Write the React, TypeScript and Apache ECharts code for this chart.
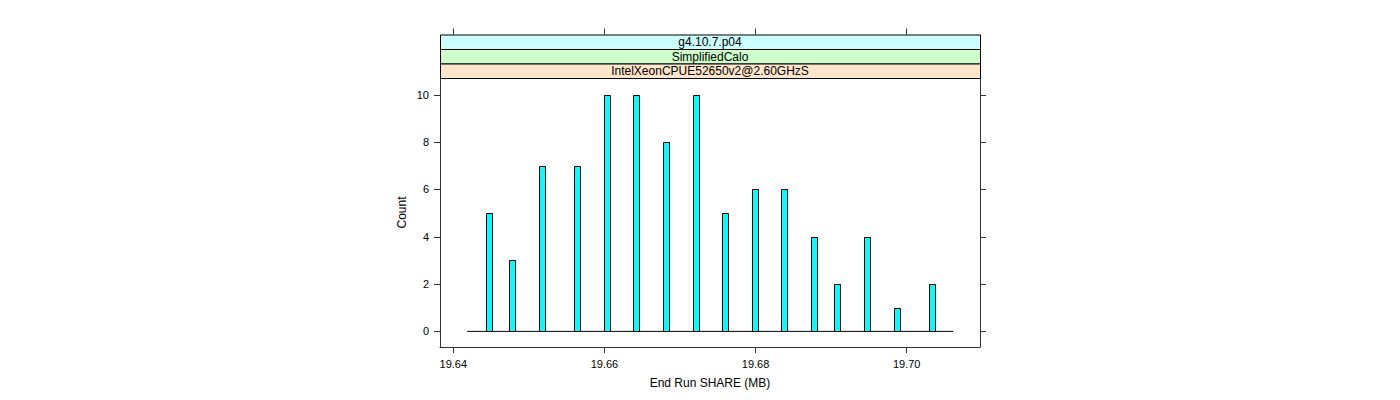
import React, { useEffect, useRef } from "react";
import * as echarts from "echarts";

// ---- data ----
const binCenters = [
  19.64469, 19.64781, 19.6517, 19.65641, 19.6603, 19.66422, 19.66819, 19.67209,
  19.676, 19.67989, 19.68381, 19.68774, 19.69083, 19.69476, 19.69869, 19.70336,
];
const counts = [5, 3, 7, 7, 10, 10, 8, 10, 5, 6, 6, 4, 2, 4, 1, 2];
const binWidth = 0.00079;
const baselineRange = [19.64185, 19.70618];
const xTicks = [19.64, 19.66, 19.68, 19.7];
const yTicks = [0, 2, 4, 6, 8, 10];
const stripLabels = ["g4.10.7.p04", "SimplifiedCalo", "IntelXeonCPUE52650v2@2.60GHzS"];
const stripColors = ["#CCFFFF", "#CCFFCC", "#FFE5CC"];
const xName = "End Run SHARE (MB)";
const yName = "Count";

const X_MIN = 19.63824;
const X_MAX = 19.7097;
const Y_MIN = -0.66;
const Y_MAX = 10.71;

const FONT = "'Liberation Sans', Arial, Helvetica, sans-serif";
const AXIS_COLOR = "#333";

export default function App() {
  const ref = useRef<HTMLDivElement>(null);

  useEffect(() => {
    document.body.style.margin = "0";
    if (!ref.current) return;
    const chart = echarts.init(ref.current, undefined, { renderer: "svg" });

    const gridLeft = 440;
    const gridRight = 980;
    const gridTop = 78;
    const gridBottom = 347;
    const stripH = 14.5;

    const strips: any[] = [];
    stripLabels.forEach((label, i) => {
      const y = gridTop - stripH * (stripLabels.length - i);
      strips.push({
        type: "rect",
        shape: { x: gridLeft + 0.5, y: y + 0.5, width: gridRight - gridLeft, height: stripH },
        style: { fill: stripColors[i], stroke: "#000", lineWidth: 1 },
        z: 10,
      });
      strips.push({
        type: "text",
        x: (gridLeft + gridRight) / 2,
        y: y + stripH / 2 + 0.5,
        style: {
          text: label,
          fill: "#000",
          font: `12px ${FONT}`,
          align: "center",
          verticalAlign: "middle",
        },
        z: 11,
      });
    });

    const barData = binCenters.map((c, i) => [c, counts[i]]);

    const option: any = {
      animation: false,
      backgroundColor: "#fff",
      textStyle: { fontFamily: FONT },
      grid: {
        left: gridLeft,
        right: 1400 - gridRight,
        top: gridTop,
        bottom: 400 - gridBottom,
        show: false,
      },
      xAxis: [
        {
          type: "value",
          position: "bottom",
          min: X_MIN,
          max: X_MAX,
          name: xName,
          nameLocation: "middle",
          nameGap: 30,
          nameTextStyle: { fontSize: 12, color: "#000", fontFamily: FONT },
          axisLine: { show: true, onZero: false, lineStyle: { color: AXIS_COLOR, width: 1 } },
          axisTick: {
            show: true,
            inside: false,
            length: 6,
            customValues: xTicks,
            lineStyle: { color: AXIS_COLOR },
          },
          axisLabel: {
            show: true,
            customValues: xTicks,
            margin: 11,
            fontSize: 11,
            color: "#000",
            fontFamily: FONT,
            formatter: (v: number) => v.toFixed(2),
          },
          splitLine: { show: false },
        },
        {
          type: "value",
          position: "top",
          offset: stripH * 3,
          min: X_MIN,
          max: X_MAX,
          axisLine: { show: false, onZero: false },
          axisTick: {
            show: true,
            inside: false,
            length: 6,
            customValues: xTicks,
            lineStyle: { color: AXIS_COLOR },
          },
          axisLabel: { show: false },
          splitLine: { show: false },
        },
      ],
      yAxis: [
        {
          type: "value",
          position: "left",
          min: Y_MIN,
          max: Y_MAX,
          name: yName,
          nameLocation: "middle",
          nameGap: 32,
          nameRotate: 90,
          nameTextStyle: { fontSize: 12, color: "#000", fontFamily: FONT },
          axisLine: { show: true, onZero: false, lineStyle: { color: AXIS_COLOR, width: 1 } },
          axisTick: {
            show: true,
            inside: false,
            length: 6,
            customValues: yTicks,
            lineStyle: { color: AXIS_COLOR },
          },
          axisLabel: {
            show: true,
            customValues: yTicks,
            margin: 11,
            fontSize: 11,
            color: "#000",
            fontFamily: FONT,
          },
          splitLine: { show: false },
        },
        {
          type: "value",
          position: "right",
          min: Y_MIN,
          max: Y_MAX,
          axisLine: { show: true, onZero: false, lineStyle: { color: AXIS_COLOR, width: 1 } },
          axisTick: {
            show: true,
            inside: false,
            length: 6,
            customValues: yTicks,
            lineStyle: { color: AXIS_COLOR },
          },
          axisLabel: { show: false },
          splitLine: { show: false },
        },
      ],
      series: [
        {
          type: "line",
          xAxisIndex: 0,
          yAxisIndex: 0,
          data: [
            [baselineRange[0], 0],
            [baselineRange[1], 0],
          ],
          symbol: "none",
          lineStyle: { color: "#000", width: 1 },
          z: 2,
          silent: true,
        },
        {
          type: "custom",
          xAxisIndex: 0,
          yAxisIndex: 0,
          data: barData,
          encode: { x: 0, y: 1 },
          z: 3,
          renderItem: (params: any, api: any) => {
            const x = api.value(0);
            const y = api.value(1);
            const p0 = api.coord([x - binWidth / 2, 0]);
            const p1 = api.coord([x + binWidth / 2, y]);
            const left = Math.round(p0[0]) + 0.5;
            const right = Math.round(p1[0]) + 0.5;
            const top = Math.round(p1[1]) + 0.5;
            const bottom = Math.round(p0[1]) + 0.5;
            return {
              type: "rect",
              shape: { x: left, y: top, width: right - left, height: bottom - top },
              style: { fill: "#00FFFF", stroke: "#000", lineWidth: 1 },
            };
          },
        },
      ],
      graphic: strips,
    };

    chart.setOption(option);
    return () => chart.dispose();
  }, []);

  return (
    <div
      ref={ref}
      style={{ position: "absolute", left: 0, top: 0, width: 1400, height: 400 }}
    />
  );
}
